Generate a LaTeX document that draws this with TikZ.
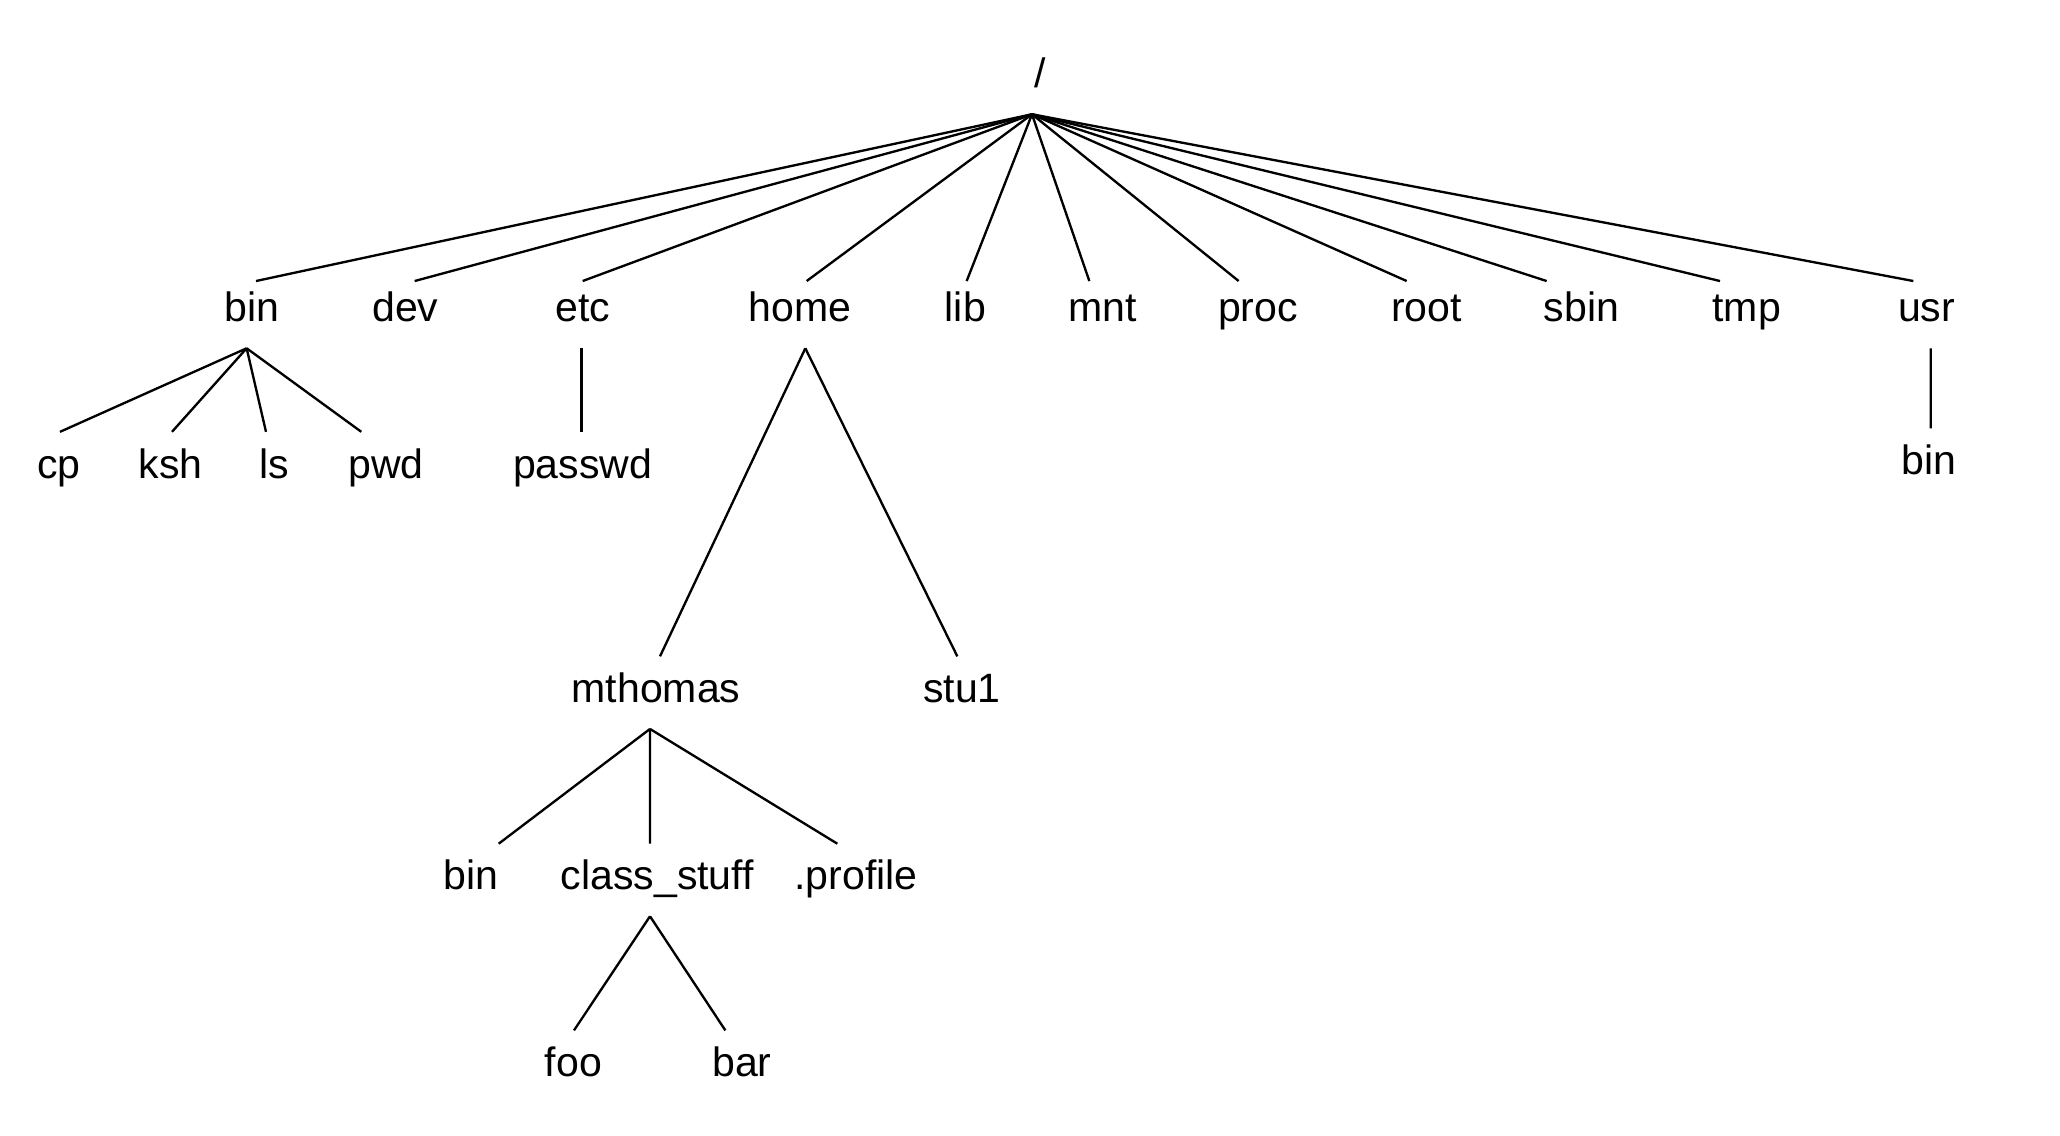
\documentclass[tikz,border=0pt]{standalone}
\usepackage{fontspec}
\setmainfont{Liberation Sans}

\tikzset{
    dir/.style={anchor=base, inner xsep=0pt, inner ysep=.5mm,
        text height=2.9mm, text depth=1.4mm,
        font=\fontsize{8.75}{10}\selectfont},
    firstdir/.style={dir, text height=2.5mm},
    branch/.style={line width=.5pt}
}

\begin{document}
\begin{tikzpicture}[x=0.01cm, y=-0.01cm]
    \useasboundingbox (0,0) rectangle (1545,852);
    % the tree, level by level
    \node[dir] (top) at (780,66) {/};
    \foreach \x/\name in {189/bin,304/dev,437/etc,600/home,724/lib,827/mnt,943.5/proc,1070/root,1186/sbin,1310/tmp,1445/usr}
        \node[firstdir] (\name) at (\x,241.5) {\name};
    \foreach \x/\name in {44/cp,128/ksh,206/ls,289.5/pwd,437/passwd}
        \node[dir] (\name) at (\x,358.6) {\name};
    \node[dir] (ubin) at (1447,356) {bin};
    \node[dir] (mthomas) at (492,527) {mthomas};
    \node[dir] (stu1) at (721.5,527) {stu1};
    \node[dir] (mbin) at (353,667.5) {bin};
    \node[dir] (stuff) at (493,667.5) {class\_stuff};
    \node[dir] (profile) at (642,667.5) {.profile};
    \node[dir] (foo) at (430,807.5) {foo};
    \node[dir] (bar) at (556.5,807.5) {bar};
    % branches
    \foreach \mom/\kid/\dm/\dk in {top/bin/-.6mm/.3mm, top/dev/-.6mm/.7mm, top/etc/-.6mm/0mm,
            top/home/-.6mm/.5mm, top/lib/-.6mm/.1mm, top/mnt/-.6mm/-1mm, top/proc/-.6mm/-1.45mm,
            top/root/-.6mm/-1.5mm, top/sbin/-.6mm/-2.6mm, top/tmp/-.6mm/-2mm, top/usr/-.6mm/-1mm,
            bin/cp/-.4mm/.1mm, bin/ksh/-.4mm/.1mm, bin/ls/-.4mm/-.65mm, bin/pwd/-.4mm/-1.85mm,
            etc/passwd/-.1mm/-.1mm, usr/ubin/.3mm/.1mm,
            home/mthomas/.4mm/.3mm, home/stu1/.4mm/-.35mm,
            mthomas/mbin/-.45mm/2.1mm, mthomas/stuff/-.45mm/-.55mm, mthomas/profile/-.45mm/-1.4mm,
            stuff/foo/-.55mm/.05mm, stuff/bar/-.55mm/-1.25mm}
        \draw[branch] ([xshift=\dm]\mom.south) -- ([xshift=\dk]\kid.north);
\end{tikzpicture}
\end{document}
